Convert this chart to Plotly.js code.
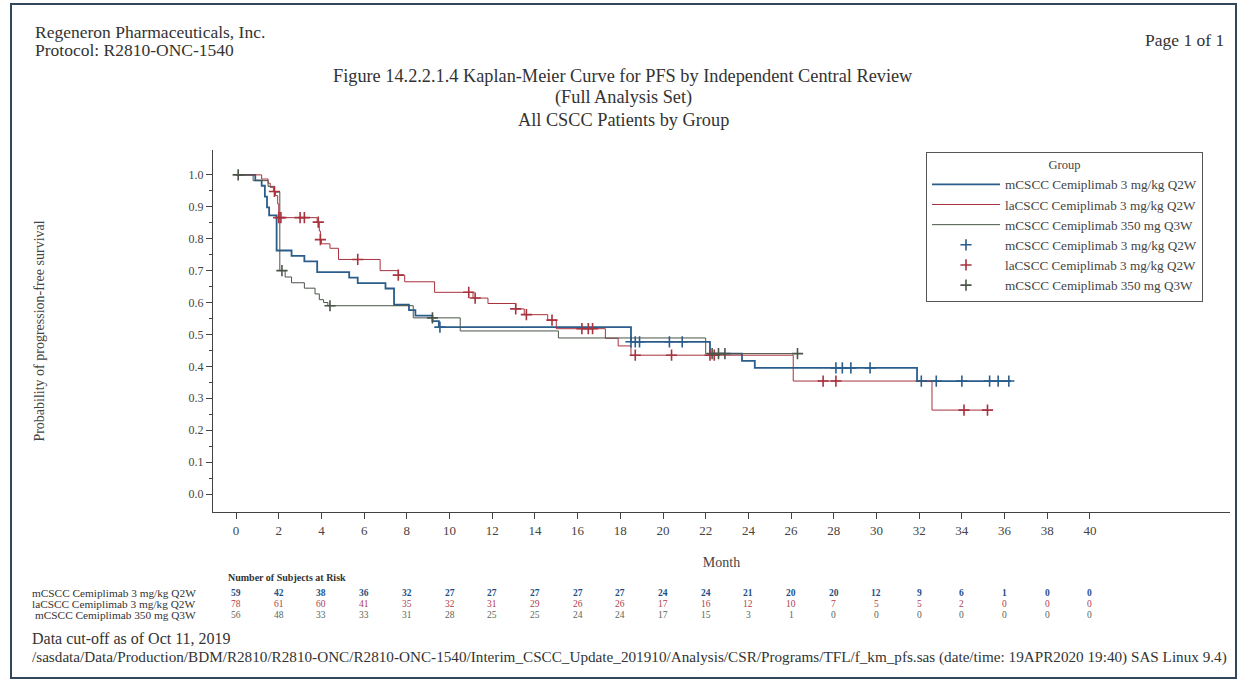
<!DOCTYPE html>
<html>
<head>
<meta charset="utf-8">
<script src="https://cdn.plot.ly/plotly-3.0.1.min.js"></script>
<style>
html,body{margin:0;padding:0;background:#fff;}
#chart{width:1244px;height:690px;}
</style>
</head>
<body>
<div id="chart"></div>
<script>
// ---------- DATA ----------
const groupNames = [
  "mCSCC Cemiplimab 3 mg/kg Q2W",
  "laCSCC Cemiplimab 3 mg/kg Q2W",
  "mCSCC Cemiplimab 350 mg Q3W"
];
// Kaplan-Meier step points (month, survival probability)
const mQ2W_t = [0, 0.9, 1.2, 1.35, 1.45, 1.55, 1.9, 2.6, 3.2, 3.8, 5.3, 5.7, 7.0, 7.4, 8.1, 8.4, 9.2, 9.5, 18.5, 22.2, 23.7, 24.3, 31.9, 36.3];
const mQ2W_s = [1, 0.983, 0.966, 0.932, 0.898, 0.873, 0.763, 0.746, 0.729, 0.695, 0.678, 0.661, 0.644, 0.593, 0.576, 0.559, 0.542, 0.523, 0.477, 0.44, 0.417, 0.395, 0.354, 0.354];
const mQ2W_cens = [9.55, 18.5, 18.7, 18.9, 20.3, 20.9, 28.1, 28.4, 28.8, 29.7, 32.1, 32.8, 34.0, 35.3, 35.7, 36.2];

const laQ2W_t = [0, 1.2, 1.5, 1.6, 1.75, 1.85, 1.95, 2.0, 3.8, 3.9, 3.95, 4.0, 4.4, 4.8, 6.75, 7.6, 7.9, 9.3, 11.1, 11.8, 13.1, 13.5, 14.6, 15.0, 17.3, 17.9, 18.5, 26.1, 32.6, 35.2];
const laQ2W_s = [1, 0.987, 0.974, 0.961, 0.948, 0.935, 0.909, 0.866, 0.852, 0.824, 0.797, 0.784, 0.77, 0.735, 0.70, 0.686, 0.665, 0.632, 0.614, 0.597, 0.58, 0.562, 0.545, 0.518, 0.488, 0.464, 0.435, 0.354, 0.263, 0.263];
const laQ2W_cens = [1.8, 2.0, 2.1, 3.0, 3.2, 3.85, 3.95, 5.7, 7.6, 10.9, 11.2, 13.1, 13.6, 14.8, 16.2, 16.5, 16.7, 18.7, 20.4, 22.2, 22.4, 27.5, 28.1, 34.1, 35.2];

const mQ3W_t = [0, 0.8, 1.5, 1.8, 2.05, 2.3, 2.6, 3.2, 3.7, 3.9, 4.1, 4.3, 8.3, 10.5, 15.1, 22.0, 26.3];
const mQ3W_s = [1, 0.982, 0.964, 0.946, 0.70, 0.68, 0.662, 0.645, 0.627, 0.609, 0.60, 0.59, 0.552, 0.511, 0.489, 0.44, 0.44];
const mQ3W_cens = [0.1, 2.15, 4.4, 9.2, 22.3, 22.6, 22.9, 26.3];

// Number of subjects at risk
const riskMonths = [0,2,4,6,8,10,12,14,16,18,20,22,24,26,28,30,32,34,36,38,40];
const risk_mQ2W  = [59,42,38,36,32,27,27,27,27,27,24,24,21,20,20,12,9,6,1,0,0];
const risk_laQ2W = [78,61,60,41,35,32,31,29,26,26,17,16,12,10,7,5,5,2,0,0,0];
const risk_mQ3W  = [56,48,33,33,31,28,25,25,24,24,17,15,3,1,0,0,0,0,0,0,0];

// ---------- STYLE ----------
const colors = ["#2a5d8c", "#a8323e", "#4a5548"];
const riskColors = ["#1f4f86", "#b0404c", "#5a6658"];
const serif = "Liberation Serif, Times New Roman, serif";

function stepAt(ts, ss, t){
  let v = ss[0];
  for (let i=0;i<ts.length;i++){ if (ts[i] <= t) v = ss[i]; }
  return v;
}

const curves = [
  {t:mQ2W_t, s:mQ2W_s, c:mQ2W_cens, w:1.8},
  {t:laQ2W_t, s:laQ2W_s, c:laQ2W_cens, w:1.0},
  {t:mQ3W_t, s:mQ3W_s, c:mQ3W_cens, w:1.0}
];

const traces = [];
curves.forEach((cv,i)=>{
  traces.push({
    x: cv.t, y: cv.s, type:'scatter', mode:'lines',
    line:{shape:'hv', color:colors[i], width:cv.w},
    name: groupNames[i], hoverinfo:'skip'
  });
});
curves.forEach((cv,i)=>{
  traces.push({
    x: cv.c, y: cv.c.map(t=>stepAt(cv.t, cv.s, t)), type:'scatter', mode:'markers',
    marker:{symbol:'cross-thin', size:8, line:{color:colors[i], width:1.6}, color:colors[i]},
    name: groupNames[i], hoverinfo:'skip'
  });
});

// pixel -> paper helpers (plot area: l=213, r=1230, t=150, b=512)
const PL=213, PR=1230, PT=150, PB=512;
const px = x => (x-PL)/(PR-PL);
const py = y => (PB-y)/(PB-PT);

const ann = [];
function txt(text, x, y, size, opts){
  ann.push(Object.assign({text:text, x:px(x), y:py(y), xref:'paper', yref:'paper',
    showarrow:false, font:{family:serif, size:size, color:'#333'}, xanchor:'left', yanchor:'middle'}, opts||{}));
}
txt("Regeneron Pharmaceuticals, Inc.", 33, 32, 17.5);
txt("Protocol: R2810-ONC-1540", 33, 50, 17.5);
txt("Page 1 of 1", 1226, 40, 17.5, {xanchor:'right'});
txt("Figure 14.2.2.1.4 Kaplan-Meier Curve for PFS by Independent Central Review", 623, 76, 18.3, {xanchor:'center'});
txt("(Full Analysis Set)", 623, 98, 18.3, {xanchor:'center'});
txt("All CSCC Patients by Group", 623, 120, 18.3, {xanchor:'center'});
txt("Number of Subjects at Risk", 287, 577, 10, {xanchor:'center', font:{family:serif, size:10, color:'#333', weight:'bold'}});
const riskRows = [risk_mQ2W, risk_laQ2W, risk_mQ3W];
const rowY = [593, 604, 615];
riskRows.forEach((row,i)=>{
  txt(groupNames[i], 198, rowY[i], 11.3, {xanchor:'right'});
  row.forEach((v,j)=>{
    ann.push({text:String(v), x:riskMonths[j], y:py(rowY[i]), xref:'x', yref:'paper', showarrow:false,
      xanchor:'center', yanchor:'middle', font:{family:serif, size:9.5, color:riskColors[i], weight: i===0?'bold':'normal'}});
  });
});
txt("Data cut-off as of Oct 11, 2019", 30, 638, 16);
txt("/sasdata/Data/Production/BDM/R2810/R2810-ONC/R2810-ONC-1540/Interim_CSCC_Update_201910/Analysis/CSR/Programs/TFL/f_km_pfs.sas (date/time: 19APR2020 19:40) SAS Linux 9.4)", 30, 657, 15.2);

const layout = {
  width:1244, height:690,
  margin:{l:PL, r:1244-PR, t:PT, b:690-PB},
  paper_bgcolor:'#fff', plot_bgcolor:'#fff',
  font:{family:serif, color:'#333'},
  showlegend:true,
  legend:{
    x:px(926), y:py(152), xanchor:'left', yanchor:'top',
    bgcolor:'#fff', bordercolor:'#555', borderwidth:1,
    font:{family:serif, size:13.2, color:'#444'},
    title:{text:'Group', side:'top center', font:{family:serif, size:12.5, color:'#444'}},
    itemwidth:68, tracegroupgap:0, traceorder:'normal'
  },
  xaxis:{
    range:[-1.08, 46.56], tickvals:riskMonths, ticktext:riskMonths.map(String),
    ticks:'outside', ticklen:6, tickcolor:'#444', showline:true, linecolor:'#444', linewidth:1,
    showgrid:false, zeroline:false, tickfont:{family:serif, size:13, color:'#444'},
    title:{text:'Month', font:{family:serif, size:14, color:'#444'}, standoff:20}
  },
  yaxis:{
    range:[-0.0564, 1.078], tickvals:[0,0.1,0.2,0.3,0.4,0.5,0.6,0.7,0.8,0.9,1.0],
    ticktext:['0.0','0.1','0.2','0.3','0.4','0.5','0.6','0.7','0.8','0.9','1.0'],
    ticks:'outside', ticklen:6, tickcolor:'#444', showline:true, linecolor:'#444', linewidth:1,
    minor:{tickvals:[0.05,0.15,0.25,0.35,0.45,0.55,0.65,0.75,0.85,0.95], ticks:'outside', ticklen:3, tickcolor:'#444'},
    showgrid:false, zeroline:false, tickfont:{family:serif, size:12, color:'#444'},
    title:{text:'Probability of progression-free survival', font:{family:serif, size:14, color:'#444'}, standoff:140}
  },
  annotations: ann,
  shapes:[{type:'rect', xref:'paper', yref:'paper', x0:px(11), x1:px(1236), y0:py(678), y1:py(4),
    line:{color:'#34475a', width:2}, fillcolor:'rgba(0,0,0,0)', layer:'below'}]
};

Plotly.newPlot('chart', traces, layout, {displayModeBar:false, staticPlot:true});
</script>
</body>
</html>
